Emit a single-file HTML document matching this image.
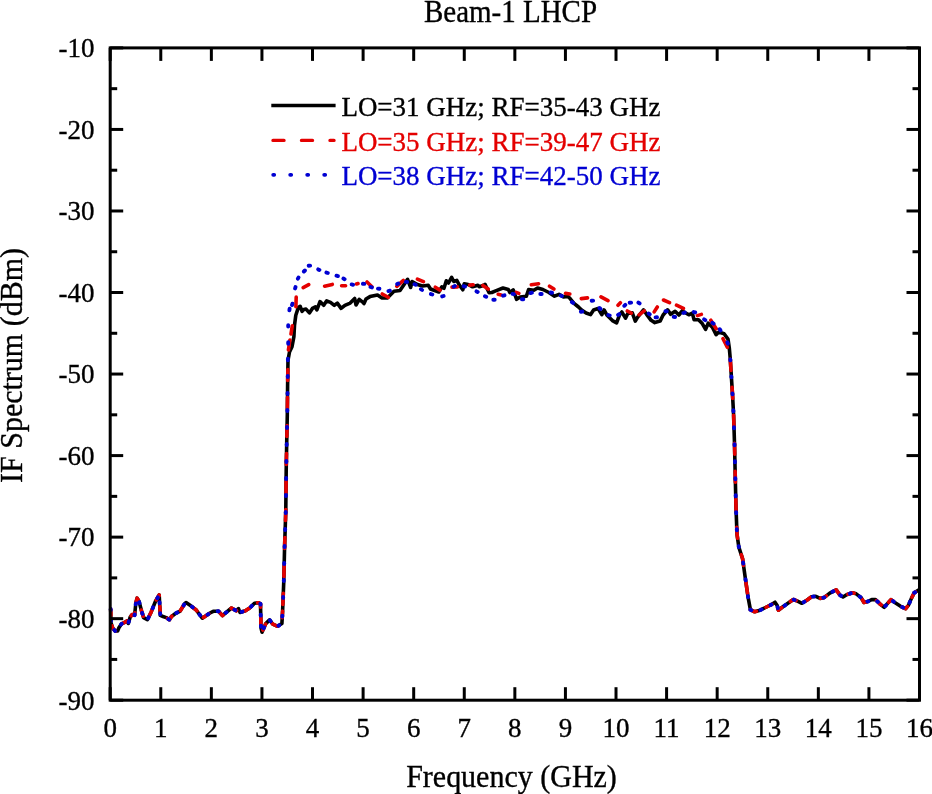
<!DOCTYPE html>
<html><head><meta charset="utf-8"><style>
html,body{margin:0;padding:0;background:#fff;}
body{width:932px;height:794px;overflow:hidden;}
svg{display:block;will-change:transform;}
</style></head><body>
<svg width="932" height="794" viewBox="0 0 932 794">
<rect width="932" height="794" fill="#fff"/>
<g font-family="'Liberation Serif', serif" fill="#000" stroke="#000" stroke-width="0.35" text-anchor="middle">
<text transform="translate(510.5,21.8) scale(1,1.07)" font-size="29">Beam-1 LHCP</text>
<text transform="translate(511.5,786.8) scale(1,1.06)" font-size="30">Frequency (GHz)</text>
<text transform="translate(21.7,365.5) rotate(-90) scale(1,1.06)" font-size="30">IF Spectrum (dBm)</text>
<g font-size="27">
<text transform="translate(110.20,737) scale(1,1.03)">0</text>
<text transform="translate(160.78,737) scale(1,1.03)">1</text>
<text transform="translate(211.36,737) scale(1,1.03)">2</text>
<text transform="translate(261.94,737) scale(1,1.03)">3</text>
<text transform="translate(312.52,737) scale(1,1.03)">4</text>
<text transform="translate(363.11,737) scale(1,1.03)">5</text>
<text transform="translate(413.69,737) scale(1,1.03)">6</text>
<text transform="translate(464.27,737) scale(1,1.03)">7</text>
<text transform="translate(514.85,737) scale(1,1.03)">8</text>
<text transform="translate(565.43,737) scale(1,1.03)">9</text>
<text transform="translate(616.01,737) scale(1,1.03)">10</text>
<text transform="translate(666.59,737) scale(1,1.03)">11</text>
<text transform="translate(717.17,737) scale(1,1.03)">12</text>
<text transform="translate(767.76,737) scale(1,1.03)">13</text>
<text transform="translate(818.34,737) scale(1,1.03)">14</text>
<text transform="translate(868.92,737) scale(1,1.03)">15</text>
<text transform="translate(919.50,737) scale(1,1.03)">16</text>
<text transform="translate(94.5,57.20) scale(1,1.03)" text-anchor="end">-10</text>
<text transform="translate(94.5,138.74) scale(1,1.03)" text-anchor="end">-20</text>
<text transform="translate(94.5,220.28) scale(1,1.03)" text-anchor="end">-30</text>
<text transform="translate(94.5,301.81) scale(1,1.03)" text-anchor="end">-40</text>
<text transform="translate(94.5,383.35) scale(1,1.03)" text-anchor="end">-50</text>
<text transform="translate(94.5,464.89) scale(1,1.03)" text-anchor="end">-60</text>
<text transform="translate(94.5,546.43) scale(1,1.03)" text-anchor="end">-70</text>
<text transform="translate(94.5,627.96) scale(1,1.03)" text-anchor="end">-80</text>
<text transform="translate(94.5,709.50) scale(1,1.03)" text-anchor="end">-90</text>
</g>
<g font-size="27" text-anchor="start">
<text transform="translate(341.4,115.8) scale(1,1.04)">LO=31 GHz; RF=35-43 GHz</text>
<text transform="translate(341.4,150.9) scale(1,1.04)" fill="#e40000" stroke="#e40000">LO=35 GHz; RF=39-47 GHz</text>
<text transform="translate(341.4,184.6) scale(1,1.04)" fill="#0000d2" stroke="#0000d2">LO=38 GHz; RF=42-50 GHz</text>
</g>
</g>
<g fill="none" stroke-linejoin="round">
<path d="M110.7,609.0 L111.0,622.8 L112.6,627.8 L115.1,631.0 L117.6,631.0 L118.9,627.8 L121.4,624.0 L125.2,622.1 L127.0,620.9 L128.3,623.4 L130.2,617.1 L132.1,614.6 L134.6,615.2 L135.9,602.6 L137.1,598.2 L139.0,601.3 L141.5,610.8 L143.6,617.6 L147.4,619.7 L151.1,612.2 L155.4,601.5 L159.2,595.0 L160.3,615.4 L163.0,616.5 L166.2,617.6 L169.4,619.7 L171.5,616.5 L175.8,613.3 L180.1,611.1 L184.4,604.1 L186.0,602.5 L190.8,605.8 L196.2,610.0 L202.3,618.2 L210.0,613.0 L213.2,611.3 L218.6,611.3 L222.4,615.6 L231.5,608.0 L236.3,610.8 L238.5,608.6 L240.0,612.4 L245.4,610.8 L249.7,608.0 L254.5,603.2 L258.3,602.7 L260.5,603.8 L261.0,627.9 L262.0,632.2 L265.8,623.6 L269.6,619.9 L272.8,624.2 L277.6,626.3 L281.9,623.6 L282.6,611.0 L283.8,580.9 L284.6,546.6 L285.8,510.3 L286.2,470.0 L286.7,443.2 L287.3,414.9 L287.6,386.6 L288.0,360.2 L289.5,352.0 L292.0,346.7 L293.9,336.6 L294.5,325.3 L295.8,315.2 L298.3,307.6 L300.2,306.3 L302.1,311.4 L303.8,309.5 L306.0,309.1 L309.4,312.9 L312.4,308.4 L315.4,306.9 L316.9,309.9 L320.0,301.6 L323.7,305.3 L326.7,300.8 L330.5,302.3 L334.3,305.3 L337.3,303.1 L341.1,308.4 L344.9,305.3 L350.2,303.1 L354.7,298.5 L356.0,305.0 L359.2,299.3 L363.0,302.3 L364.0,303.5 L366.0,299.0 L370.0,296.6 L377.5,295.0 L382.0,298.0 L387.3,298.0 L394.0,291.3 L400.0,290.5 L404.6,283.8 L407.6,279.3 L410.6,287.5 L412.1,281.5 L417.4,284.5 L422.6,286.0 L428.3,285.3 L430.5,289.0 L438.8,292.0 L441.8,286.8 L444.0,288.3 L446.3,280.8 L448.5,283.0 L451.6,277.4 L453.8,281.5 L456.8,280.4 L459.0,284.5 L462.8,289.8 L464.3,283.8 L468.1,284.5 L472.6,286.8 L477.9,285.3 L479.4,286.8 L483.9,285.3 L485.0,284.3 L489.1,292.8 L491.8,292.5 L496.3,290.7 L503.0,288.0 L508.3,289.5 L509.8,292.5 L513.2,289.9 L516.6,299.3 L520.3,297.0 L526.3,296.3 L528.6,289.5 L533.8,290.3 L537.6,288.0 L542.9,289.5 L548.9,292.5 L554.5,296.2 L559.0,294.3 L563.5,296.9 L568.0,296.5 L570.3,298.8 L574.0,303.3 L578.5,307.0 L581.6,310.0 L586.1,313.0 L590.6,314.6 L593.6,310.0 L598.1,308.5 L601.8,314.6 L604.1,310.0 L607.1,315.3 L612.4,320.6 L616.6,322.8 L619.5,315.0 L621.8,312.0 L625.5,318.1 L627.8,313.5 L632.3,312.8 L635.3,321.1 L637.5,317.3 L643.5,309.8 L646.6,314.3 L651.1,320.3 L654.8,322.6 L660.1,321.1 L663.1,315.0 L667.6,309.8 L670.6,314.3 L675.1,311.3 L678.9,315.0 L682.6,310.5 L683.5,311.7 L688.8,314.8 L692.3,313.1 L694.1,319.7 L698.5,319.7 L702.0,323.2 L705.6,329.4 L708.2,323.2 L712.6,327.6 L716.1,334.6 L718.8,332.0 L724.1,333.8 L728.0,339.1 L729.3,347.9 L730.3,359.4 L730.8,367.7 L732.6,396.0 L733.6,414.9 L734.5,443.2 L735.1,470.0 L736.0,507.7 L737.0,534.2 L738.9,547.4 L742.6,558.7 L745.5,579.4 L748.2,597.9 L750.4,609.7 L754.7,611.8 L760.0,610.2 L766.5,607.0 L770.8,604.9 L775.0,602.2 L777.2,605.4 L778.3,610.2 L782.6,607.0 L787.9,603.3 L793.3,599.5 L797.6,601.1 L801.9,603.3 L807.2,600.0 L811.5,596.8 L815.8,596.3 L820.1,598.4 L824.4,597.4 L829.8,593.1 L836.2,589.8 L839.8,595.0 L843.0,597.0 L846.6,594.7 L852.4,592.8 L856.2,593.8 L861.1,597.6 L864.0,602.5 L867.8,601.5 L871.7,599.6 L875.5,599.6 L880.4,604.4 L884.2,607.3 L887.6,603.4 L891.0,599.6 L894.8,602.5 L900.6,606.3 L905.5,608.7 L908.4,605.4 L911.3,598.6 L914.2,592.8 L919.0,589.9" stroke="#000" stroke-width="3.6"/>
<g stroke="#e40000" stroke-width="3.6" stroke-linecap="round">
<path d="M110.7,609.0 L111.0,622.8 L112.6,627.8 L115.1,631.0 L117.6,631.0 L118.9,627.8 L121.4,624.0 L125.2,622.1 L127.0,620.9 L128.3,623.4 L130.2,617.1 L132.1,614.6 L134.6,615.2 L135.9,602.6 L137.1,598.2 L139.0,601.3 L141.5,610.8 L143.6,617.6 L147.4,619.7 L151.1,612.2 L155.4,601.5 L159.2,595.0 L160.3,615.4 L163.0,616.5 L166.2,617.6 L169.4,619.7 L171.5,616.5 L175.8,613.3 L180.1,611.1 L184.4,604.1 L186.0,602.5 L190.8,605.8 L196.2,610.0 L202.3,618.2 L210.0,613.0 L213.2,611.3 L218.6,611.3 L222.4,615.6 L231.5,608.0 L236.3,610.8 L238.5,608.6 L240.0,612.4 L245.4,610.8 L249.7,608.0 L254.5,603.2 L258.3,602.7 L260.5,603.8 L261.0,627.9 L262.0,632.2 L265.8,623.6 L269.6,619.9 L272.8,624.2 L277.6,626.3 L281.9,623.6 L282.6,611.0" stroke-dasharray="6.5 10.5"/>
<path d="M282.6,611.0 L283.8,580.9 L284.6,546.6 L285.8,510.3 L286.2,470.0 L286.7,443.2 L287.3,414.9 L287.6,386.6 L288.0,360.2" stroke-dasharray="11 17" stroke-dashoffset="21.4"/>
<path d="M730.3,359.4 L730.8,367.7 L732.6,396.0 L733.6,414.9 L734.5,443.2 L735.1,470.0 L736.0,507.7 L737.0,534.2 L738.9,547.4 L742.6,558.7 L745.5,579.4 L748.2,597.9 L750.4,609.7" stroke-dasharray="11 17"/>
<path d="M750.4,609.7 L754.7,611.8 L760.0,610.2 L766.5,607.0 L770.8,604.9 L775.0,602.2 L777.2,605.4 L778.3,610.2 L782.6,607.0 L787.9,603.3 L793.3,599.5 L797.6,601.1 L801.9,603.3 L807.2,600.0 L811.5,596.8 L815.8,596.3 L820.1,598.4 L824.4,597.4 L829.8,593.1 L836.2,589.8 L839.8,595.0 L843.0,597.0 L846.6,594.7 L852.4,592.8 L856.2,593.8 L861.1,597.6 L864.0,602.5 L867.8,601.5 L871.7,599.6 L875.5,599.6 L880.4,604.4 L884.2,607.3 L887.6,603.4 L891.0,599.6 L894.8,602.5 L900.6,606.3 L905.5,608.7 L908.4,605.4 L911.3,598.6 L914.2,592.8 L919.0,589.9" stroke-dasharray="6.5 10.5"/>
<path d="M288.4,349.9 L289.9,340.1 M291.0,334.0 L292.3,325.8 M295.9,306.8 L296.2,297.1 M303.2,287.6 L308.7,284.7 M324.6,286.2 L332.3,284.4 M341.6,285.7 L345.6,285.7 M356.5,284.0 L358.0,283.5 M367.0,281.9 L371.9,286.8 M382.3,294.0 L388.2,297.3 M396.8,286.4 L403.4,280.4 M417.4,279.1 L423.4,281.7 M435.3,287.2 L440.0,290.1 M452.0,287.1 L457.4,286.9 M469.7,285.1 L473.2,284.7 M482.9,285.4 L488.2,289.0 M498.2,294.3 L501.1,294.9 M516.2,292.4 L518.8,293.4 M531.3,284.8 L538.6,283.7 M549.5,286.2 L553.9,289.0 M565.5,293.4 L569.8,294.0 M581.3,298.6 L587.5,297.9 M601.0,296.9 L608.0,300.7 M618.0,305.3 L620.4,302.7 M627.3,311.0 L631.3,313.1 M639.1,314.8 L644.2,310.8 M654.2,311.9 L657.3,307.0 M663.5,300.0 L669.5,302.7 M676.5,305.2 L683.4,308.4 M697.4,315.6 L701.4,314.4 M710.8,320.2 L716.2,328.8 M723.0,338.7 L727.3,347.3"/>
</g>
<g stroke="#0000d2" stroke-width="3.9" stroke-linecap="round">
<path d="M110.7,609.0 L111.0,622.8 L112.6,627.8 L115.1,631.0 L117.6,631.0 L118.9,627.8 L121.4,624.0 L125.2,622.1 L127.0,620.9 L128.3,623.4 L130.2,617.1 L132.1,614.6 L134.6,615.2 L135.9,602.6 L137.1,598.2 L139.0,601.3 L141.5,610.8 L143.6,617.6 L147.4,619.7 L151.1,612.2 L155.4,601.5 L159.2,595.0 L160.3,615.4 L163.0,616.5 L166.2,617.6 L169.4,619.7 L171.5,616.5 L175.8,613.3 L180.1,611.1 L184.4,604.1 L186.0,602.5 L190.8,605.8 L196.2,610.0 L202.3,618.2 L210.0,613.0 L213.2,611.3 L218.6,611.3 L222.4,615.6 L231.5,608.0 L236.3,610.8 L238.5,608.6 L240.0,612.4 L245.4,610.8 L249.7,608.0 L254.5,603.2 L258.3,602.7 L260.5,603.8 L261.0,627.9 L262.0,632.2 L265.8,623.6 L269.6,619.9 L272.8,624.2 L277.6,626.3 L281.9,623.6 L282.6,611.0" stroke-dasharray="1 10"/>
<path d="M282.6,611.0 L283.8,580.9 L284.6,546.6 L285.8,510.3 L286.2,470.0 L286.7,443.2 L287.3,414.9 L287.6,386.6 L288.0,360.2" stroke-dasharray="1 16" stroke-dashoffset="4"/>
<path d="M730.3,359.4 L730.8,367.7 L732.6,396.0 L733.6,414.9 L734.5,443.2 L735.1,470.0 L736.0,507.7 L737.0,534.2 L738.9,547.4 L742.6,558.7 L745.5,579.4 L748.2,597.9 L750.4,609.7" stroke-dasharray="1 16"/>
<path d="M750.4,609.7 L754.7,611.8 L760.0,610.2 L766.5,607.0 L770.8,604.9 L775.0,602.2 L777.2,605.4 L778.3,610.2 L782.6,607.0 L787.9,603.3 L793.3,599.5 L797.6,601.1 L801.9,603.3 L807.2,600.0 L811.5,596.8 L815.8,596.3 L820.1,598.4 L824.4,597.4 L829.8,593.1 L836.2,589.8 L839.8,595.0 L843.0,597.0 L846.6,594.7 L852.4,592.8 L856.2,593.8 L861.1,597.6 L864.0,602.5 L867.8,601.5 L871.7,599.6 L875.5,599.6 L880.4,604.4 L884.2,607.3 L887.6,603.4 L891.0,599.6 L894.8,602.5 L900.6,606.3 L905.5,608.7 L908.4,605.4 L911.3,598.6 L914.2,592.8 L919.0,589.9" stroke-dasharray="1 10"/>
<path d="M287.9,360.2 L287.9,358.8 M288.2,343.7 L288.2,342.3 M288.2,326.6 L288.2,325.2 M289.4,310.2 L289.6,308.8 M292.0,305.1 L292.4,303.7 M295.1,288.5 L295.5,287.1 M297.9,278.7 L298.5,277.5 M303.9,271.5 L304.9,270.5 M308.7,265.8 L310.1,265.6 M318.2,269.4 L319.4,270.0 M326.4,272.6 L327.8,273.0 M336.5,275.7 L337.9,276.1 M343.4,278.6 L344.6,279.2 M351.7,284.4 L353.1,284.8 M362.9,283.7 L364.3,283.9 M370.5,287.0 L371.9,287.4 M378.0,288.6 L379.4,288.8 M388.5,291.1 L389.9,290.7 M397.2,284.1 L398.4,283.5 M405.8,281.9 L407.2,281.9 M414.5,284.2 L415.7,284.8 M420.9,289.2 L422.1,290.0 M430.9,294.1 L432.3,294.5 M442.2,296.4 L443.6,296.0 M453.6,286.7 L454.8,286.1 M463.6,286.2 L465.0,286.6 M476.5,291.4 L477.7,292.0 M485.0,296.2 L486.2,296.8 M493.3,299.7 L494.7,299.7 M503.1,295.7 L504.5,295.3 M512.5,293.9 L513.9,294.1 M521.9,299.3 L523.3,299.3 M530.5,293.1 L531.9,292.7 M540.3,294.0 L541.7,294.0 M550.6,292.5 L552.0,292.7 M560.7,295.5 L561.9,296.1 M571.9,302.1 L573.1,302.9 M580.9,311.7 L582.3,311.5 M591.7,300.8 L593.1,300.6 M599.5,308.0 L600.5,309.0 M608.3,315.1 L609.7,315.5 M618.1,314.9 L619.3,314.1 M624.3,305.8 L625.3,304.8 M629.7,302.8 L631.1,302.6 M638.4,302.6 L639.6,303.4 M648.7,313.5 L649.7,314.3 M655.6,317.4 L657.0,317.2 M665.4,311.3 L666.8,311.3 M673.7,316.8 L675.1,317.0 M683.4,313.0 L684.8,312.6 M693.8,312.0 L695.2,312.4 M704.1,319.3 L705.3,320.1 M712.4,322.8 L713.6,323.6 M719.7,329.2 L720.5,330.4 M727.3,342.4 L727.9,343.6"/>
</g>
<line x1="271.3" y1="105.5" x2="335.6" y2="105.5" stroke="#000" stroke-width="3.4"/>
<line x1="273" y1="140.4" x2="334" y2="140.4" stroke="#e40000" stroke-width="3.4" stroke-dasharray="11 17.5" stroke-linecap="round"/>
<line x1="273.2" y1="174.8" x2="330" y2="174.8" stroke="#0000d2" stroke-width="3.8" stroke-dasharray="1 16" stroke-linecap="round"/>
</g>
<g stroke="#000" stroke-width="3" fill="none">
<rect x="110.2" y="47.9" width="809.30" height="652.30"/>
<line x1="110.20" y1="700.2" x2="110.20" y2="687.2"/>
<line x1="110.20" y1="47.9" x2="110.20" y2="60.9"/>
<line x1="160.78" y1="700.2" x2="160.78" y2="687.2"/>
<line x1="160.78" y1="47.9" x2="160.78" y2="60.9"/>
<line x1="211.36" y1="700.2" x2="211.36" y2="687.2"/>
<line x1="211.36" y1="47.9" x2="211.36" y2="60.9"/>
<line x1="261.94" y1="700.2" x2="261.94" y2="687.2"/>
<line x1="261.94" y1="47.9" x2="261.94" y2="60.9"/>
<line x1="312.52" y1="700.2" x2="312.52" y2="687.2"/>
<line x1="312.52" y1="47.9" x2="312.52" y2="60.9"/>
<line x1="363.11" y1="700.2" x2="363.11" y2="687.2"/>
<line x1="363.11" y1="47.9" x2="363.11" y2="60.9"/>
<line x1="413.69" y1="700.2" x2="413.69" y2="687.2"/>
<line x1="413.69" y1="47.9" x2="413.69" y2="60.9"/>
<line x1="464.27" y1="700.2" x2="464.27" y2="687.2"/>
<line x1="464.27" y1="47.9" x2="464.27" y2="60.9"/>
<line x1="514.85" y1="700.2" x2="514.85" y2="687.2"/>
<line x1="514.85" y1="47.9" x2="514.85" y2="60.9"/>
<line x1="565.43" y1="700.2" x2="565.43" y2="687.2"/>
<line x1="565.43" y1="47.9" x2="565.43" y2="60.9"/>
<line x1="616.01" y1="700.2" x2="616.01" y2="687.2"/>
<line x1="616.01" y1="47.9" x2="616.01" y2="60.9"/>
<line x1="666.59" y1="700.2" x2="666.59" y2="687.2"/>
<line x1="666.59" y1="47.9" x2="666.59" y2="60.9"/>
<line x1="717.17" y1="700.2" x2="717.17" y2="687.2"/>
<line x1="717.17" y1="47.9" x2="717.17" y2="60.9"/>
<line x1="767.76" y1="700.2" x2="767.76" y2="687.2"/>
<line x1="767.76" y1="47.9" x2="767.76" y2="60.9"/>
<line x1="818.34" y1="700.2" x2="818.34" y2="687.2"/>
<line x1="818.34" y1="47.9" x2="818.34" y2="60.9"/>
<line x1="868.92" y1="700.2" x2="868.92" y2="687.2"/>
<line x1="868.92" y1="47.9" x2="868.92" y2="60.9"/>
<line x1="919.50" y1="700.2" x2="919.50" y2="687.2"/>
<line x1="919.50" y1="47.9" x2="919.50" y2="60.9"/>
<line x1="110.2" y1="47.90" x2="123.2" y2="47.90"/>
<line x1="919.5" y1="47.90" x2="906.5" y2="47.90"/>
<line x1="110.2" y1="129.44" x2="123.2" y2="129.44"/>
<line x1="919.5" y1="129.44" x2="906.5" y2="129.44"/>
<line x1="110.2" y1="210.98" x2="123.2" y2="210.98"/>
<line x1="919.5" y1="210.98" x2="906.5" y2="210.98"/>
<line x1="110.2" y1="292.51" x2="123.2" y2="292.51"/>
<line x1="919.5" y1="292.51" x2="906.5" y2="292.51"/>
<line x1="110.2" y1="374.05" x2="123.2" y2="374.05"/>
<line x1="919.5" y1="374.05" x2="906.5" y2="374.05"/>
<line x1="110.2" y1="455.59" x2="123.2" y2="455.59"/>
<line x1="919.5" y1="455.59" x2="906.5" y2="455.59"/>
<line x1="110.2" y1="537.13" x2="123.2" y2="537.13"/>
<line x1="919.5" y1="537.13" x2="906.5" y2="537.13"/>
<line x1="110.2" y1="618.66" x2="123.2" y2="618.66"/>
<line x1="919.5" y1="618.66" x2="906.5" y2="618.66"/>
<line x1="110.2" y1="700.20" x2="123.2" y2="700.20"/>
<line x1="919.5" y1="700.20" x2="906.5" y2="700.20"/>
<line x1="110.2" y1="88.67" x2="117.2" y2="88.67"/>
<line x1="919.5" y1="88.67" x2="912.5" y2="88.67"/>
<line x1="110.2" y1="170.21" x2="117.2" y2="170.21"/>
<line x1="919.5" y1="170.21" x2="912.5" y2="170.21"/>
<line x1="110.2" y1="251.74" x2="117.2" y2="251.74"/>
<line x1="919.5" y1="251.74" x2="912.5" y2="251.74"/>
<line x1="110.2" y1="333.28" x2="117.2" y2="333.28"/>
<line x1="919.5" y1="333.28" x2="912.5" y2="333.28"/>
<line x1="110.2" y1="414.82" x2="117.2" y2="414.82"/>
<line x1="919.5" y1="414.82" x2="912.5" y2="414.82"/>
<line x1="110.2" y1="496.36" x2="117.2" y2="496.36"/>
<line x1="919.5" y1="496.36" x2="912.5" y2="496.36"/>
<line x1="110.2" y1="577.89" x2="117.2" y2="577.89"/>
<line x1="919.5" y1="577.89" x2="912.5" y2="577.89"/>
<line x1="110.2" y1="659.43" x2="117.2" y2="659.43"/>
<line x1="919.5" y1="659.43" x2="912.5" y2="659.43"/>
</g>
</svg>
</body></html>
